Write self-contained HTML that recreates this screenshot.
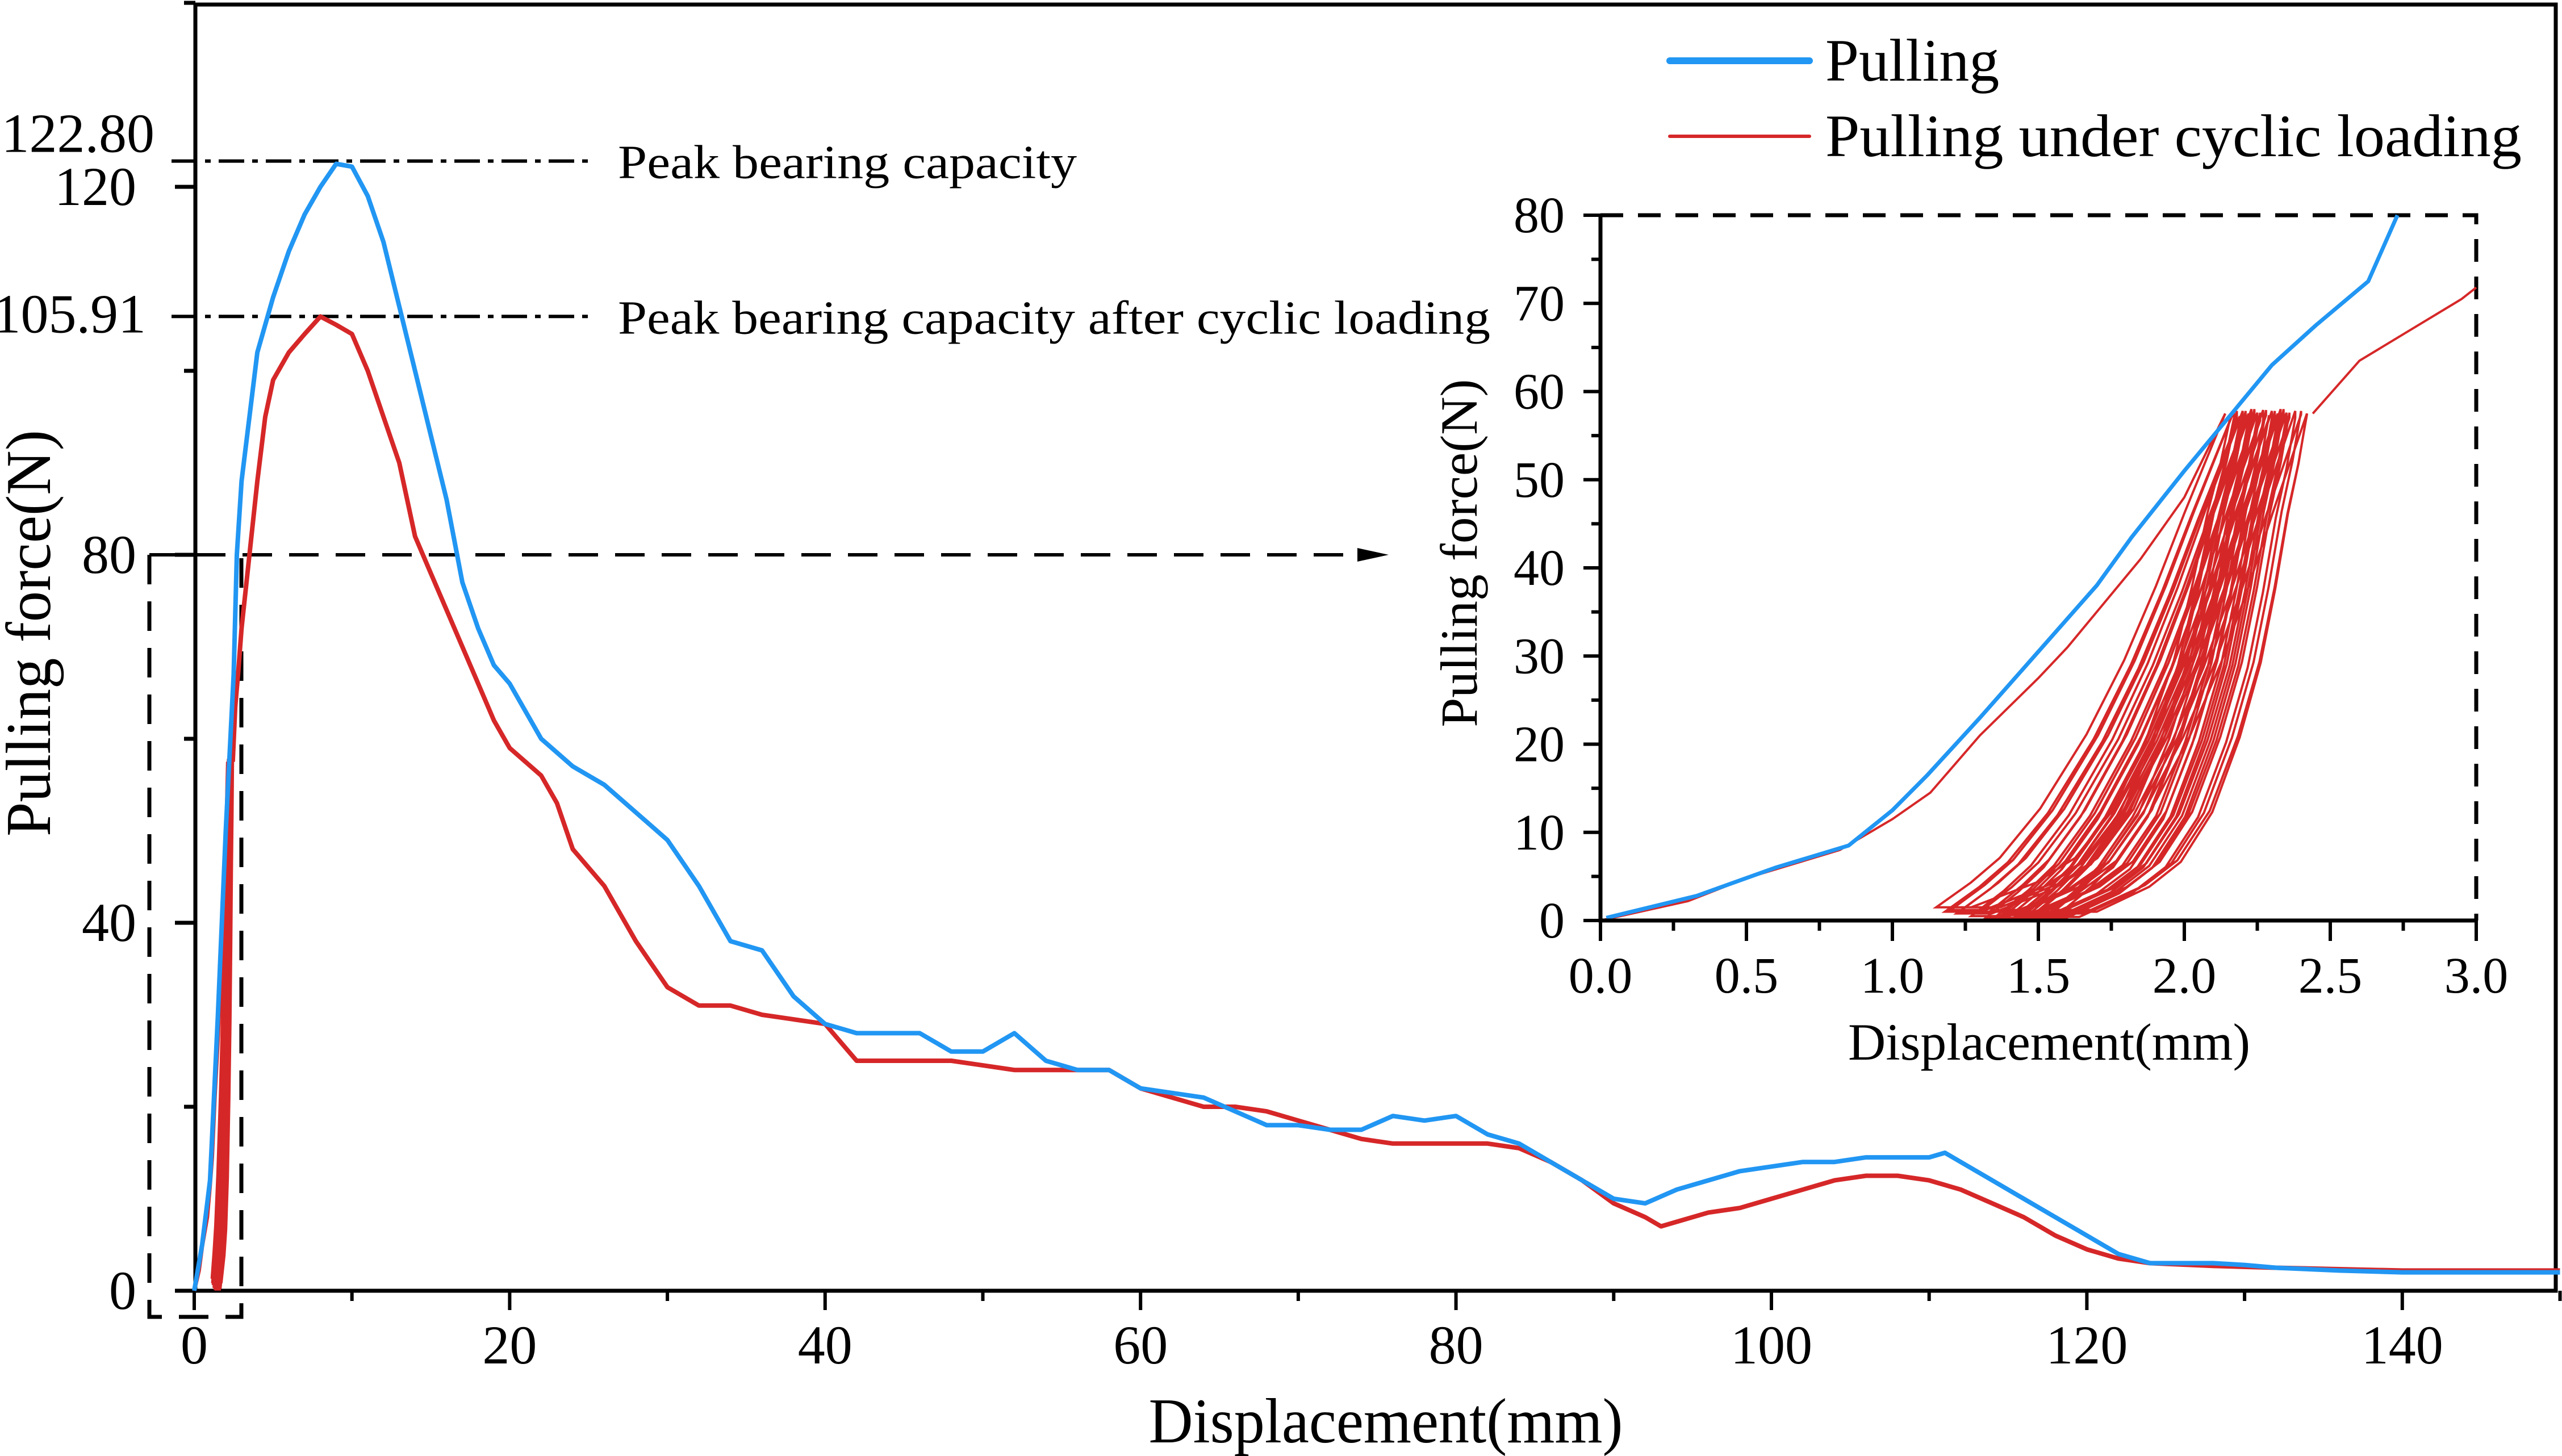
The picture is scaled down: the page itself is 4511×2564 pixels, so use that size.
<!DOCTYPE html>
<html><head><meta charset="utf-8"><style>
html,body{margin:0;padding:0;background:#fff;}
svg{display:block;font-family:"Liberation Serif",serif;}
</style></head><body>
<svg id="chart" width="4511" height="2564" viewBox="0 0 4511 2564" xmlns="http://www.w3.org/2000/svg">
<rect x="0" y="0" width="4511" height="2564" fill="#fff"/>
<g id="main"></g>
<g id="inset"></g>
</svg>
<script>
// ---- main chart data ----
const blueX = [0,0.5,1,1.5,2,2.5,2.7,3,3.5,4,5,6,7,8,9,10,11,12,13,14,15,16,17,18,19,20,22,24,26,28,30,32,34,36,38,40,42,44,46,48,50,52,54,56,58,60,62,64,66,68,70,72,74,76,78,80,82,84,86,88,90,92,94,96,98,100,102,104,106,108,110,111,112,114,116,118,120,122,124,126,128,130,132,136,140,145,150];
const blueY = [0,5,12,30,50,67,80,88,95,102,108,113,117,120,122.5,122.2,119,114,107,100,93,86,77,72,68,66,60,57,55,52,49,44,38,37,32,29,28,28,28,26,26,28,25,24,24,22,21.5,21,19.5,18,18,17.5,17.5,19,18.5,19,17,16,14,12,10,9.5,11,12,13,13.5,14,14,14.5,14.5,14.5,15,14,12,10,8,6,4,3,3,3,2.8,2.5,2.2,2,2,2];
const redX = [2.44,2.6,2.8,3,3.5,4,4.5,5,6,7,8,9,10,11,12,13,14,15,16,17,18,19,20,22,23,24,26,28,30,32,34,36,38,40,42,44,46,48,50,52,54,56,58,60,62,64,66,68,70,72,74,76,78,80,82,84,86,88,90,92,93,94,96,98,100,102,104,106,108,110,112,114,116,118,120,122,124,128,132,140,150];
const redY = [57.5,63.5,67.5,72,80,88,95,99,102,104,105.9,105,104,100,95,90,82,78,74,70,66,62,59,56,53,48,44,38,33,31,31,30,29.5,29,25,25,25,25,24.5,24,24,24,24,22,21,20,20,19.5,18.5,17.5,16.5,16,16,16,16,15.5,14,12,9.5,8,7,7.5,8.5,9,10,11,12,12.5,12.5,12,11,9.5,8,6,4.5,3.5,3,2.7,2.5,2.2,2.2];
const xTicks = [0,20,40,60,80,100,120,140];
const yTicks = [0,40,80,120];
const peakValues = [122.80,105.91];
const peakLabels = ["Peak bearing capacity","Peak bearing capacity after cyclic loading"];
// ---- inset data ----
const insetBlueX = [0.02,0.33,0.6,0.85,1.0,1.12,1.3,1.5,1.7,1.82,2.0,2.15,2.3,2.45,2.63,2.73];
const insetBlueY = [0.3,2.8,6,8.5,12.5,16.5,23,30.5,38,43.5,51,57,63,67.5,72.5,80];
const redInitX = [0,0.3,0.5,0.82,1.0,1.13,1.3,1.5,1.6,1.7,1.85,2.0,2.14];
const redInitY = [0,2.2,4.8,8,11.5,14.5,21,27.5,31,35,41,48,57.5];
const redAfterX = [2.44,2.6,2.8,2.95,3.0];
const redAfterY = [57.5,63.5,67.5,70.5,71.8];
const cycleBottomX = [1.15,1.18,1.2,1.22,1.25,1.27,1.3,1.32,1.34,1.36,1.38,1.39,1.4,1.42,1.43,1.44,1.45,1.46,1.47,1.48,1.5,1.52,1.54,1.56,1.58];
const cycleTopX = [2.14,2.16,2.17,2.18,2.19,2.2,2.21,2.22,2.23,2.24,2.25,2.26,2.27,2.28,2.29,2.3,2.31,2.32,2.33,2.34,2.35,2.36,2.38,2.4,2.42];
const cycleMinY = [1.5,1,1.2,0.8,1.5,0.5,1,0.3,1.2,0.6,0.8,0.2,1,0.4,0.7,0.3,0.9,0.5,0.2,0.6,1,0.4,0.8,1.2,1];
const cycleMaxY = [57.5,57,57.8,56.5,57.2,57.8,56.8,57.5,58,57,57.6,56.7,57.9,57.3,57,57.8,56.9,57.5,58,57.2,57.6,57,57.8,57.4,57.5];
const profileY = [0,0.05,0.1,0.2,0.35,0.5,0.65,0.8,0.9,1];
const unloadFrac = [0,0.12,0.22,0.36,0.52,0.65,0.76,0.86,0.93,1];
const reloadFrac = [0,0.25,0.4,0.55,0.68,0.78,0.85,0.91,0.96,1];
const insetXTicks = [0,0.5,1.0,1.5,2.0,2.5,3.0];
const insetYTicks = [0,10,20,30,40,50,60,70,80];

const NS="http://www.w3.org/2000/svg";
function mk(parent,tag,attrs,text){const e=document.createElementNS(NS,tag);for(const k in attrs)e.setAttribute(k,attrs[k]);if(text!==undefined)e.textContent=text;parent.appendChild(e);return e;}

const X0=342, XS=27.77, Y0=2273, YS=16.2;
const mx=v=>X0+v*XS, my=v=>Y0-v*YS;
const IX0=2818, IXS=(4360-2818)/3, IY0=1621, IYS=(1621-379)/80;
const ix=v=>IX0+v*IXS, iy=v=>IY0-v*IYS;

const main=document.getElementById('main');
const inset=document.getElementById('inset');

function buildCycles(fx,fy){
  const pts=[];
  for(let c=0;c<cycleBottomX.length;c++){
    const b=cycleBottomX[c], t=cycleTopX[c], lo=cycleMinY[c], hi=cycleMaxY[c];
    for(let k=profileY.length-1;k>=0;k--){pts.push([fx(b+(t-b)*unloadFrac[k]),fy(lo+(hi-lo)*profileY[k])]);}
    const nb=b+0.12, nt=(c+1<cycleTopX.length?cycleTopX[c+1]:t);
    for(let k=0;k<profileY.length;k++){pts.push([fx(nb+(nt-nb)*reloadFrac[k]),fy(lo+(hi-lo)*profileY[k])]);}
  }
  return pts;
}
function ptsStr(xs,ys,fx,fy){return xs.map((v,i)=>fx(v).toFixed(1)+','+fy(ys[i]).toFixed(1)).join(' ');}

// ---- MAIN ----
const frame=mk(main,'rect',{x:344,y:8,width:4156,height:2265,fill:'none',stroke:'#000','stroke-width':7});



for(let v=0;v<=150;v+=10){
  const major=xTicks.includes(v);
  const t=mk(main,'line',{x1:mx(v),x2:mx(v),y1:2273,y2:2273+(major?34:18),stroke:'#000','stroke-width':6});
  
  
}
xTicks.forEach(v=>{
  const t=mk(main,'text',{x:mx(v),y:2401,'font-size':96,'text-anchor':'middle'},String(v));
  
  
});
for(let v=0;v<=140;v+=20){
  const major=yTicks.includes(v);
  const t=mk(main,'line',{x1:344,x2:344-(major?36:20),y1:my(v),y2:my(v),stroke:'#000','stroke-width':7});
  
  
}
yTicks.forEach(v=>{
  const t=mk(main,'text',{x:240,y:my(v)+32,'font-size':96,'text-anchor':'end'},String(v));
  
  
});
const peakRight=[272,257];
const peakDy=[-16,28];
peakValues.forEach((v,i)=>{
  const l=mk(main,'line',{x1:302,x2:1036,y1:my(v),y2:my(v),stroke:'#000','stroke-width':6,'stroke-dasharray':'45 14 10 14'});
  
  
  const t=mk(main,'text',{x:peakRight[i],y:my(v)+peakDy[i],'font-size':98,'text-anchor':'end'},v.toFixed(2));
  
  
  const lab=mk(main,'text',{x:1088,y:my(v)+30,'font-size':84,textLength:i?1536:808,lengthAdjust:'spacingAndGlyphs'},peakLabels[i]);
  
  
});
const zb=mk(main,'path',{d:`M263,${my(80)} L263,2319 L425,2319 L425,${my(80)}`,fill:'none',stroke:'#000','stroke-width':7,'stroke-dasharray':'52 30'});


const ar=mk(main,'line',{x1:263,x2:2390,y1:my(80),y2:my(80),stroke:'#000','stroke-width':6,'stroke-dasharray':'52 30'});


const ah=mk(main,'polygon',{points:`2390,${my(80)-12} 2445,${my(80)} 2390,${my(80)+12}`,fill:'#000'});



const mc=buildCycles(mx,my);
const mcl=mk(main,'polyline',{points:mc.map(p=>p[0].toFixed(1)+','+p[1].toFixed(1)).join(' '),fill:'none',stroke:'#d62728','stroke-width':6});


const mri=mk(main,'polyline',{points:ptsStr(redInitX,redInitY,mx,my),fill:'none',stroke:'#d62728','stroke-width':7});


const mr=mk(main,'polyline',{points:ptsStr(redX,redY,mx,my),fill:'none',stroke:'#d62728','stroke-width':8,'stroke-linejoin':'round'});


const mb=mk(main,'polyline',{points:ptsStr(blueX,blueY,mx,my),fill:'none',stroke:'#2196f3','stroke-width':8,'stroke-linejoin':'round'});



const xt=mk(main,'text',{x:2440,y:2540,'font-size':112,'text-anchor':'middle',textLength:835,lengthAdjust:'spacingAndGlyphs'},'Displacement(mm)');


const yt=mk(main,'text',{x:0,y:0,'font-size':112,'text-anchor':'middle',textLength:716,lengthAdjust:'spacingAndGlyphs',transform:'translate(88,1115) rotate(-90)'},'Pulling force(N)');



const lb=mk(main,'line',{x1:2940,x2:3186,y1:107,y2:107,stroke:'#2196f3','stroke-width':12,'stroke-linecap':'round'});


const lbt=mk(main,'text',{x:3214,y:142,'font-size':106},'Pulling');


const lr=mk(main,'line',{x1:2940,x2:3186,y1:240,y2:240,stroke:'#d62728','stroke-width':6,'stroke-linecap':'round'});


const lrt=mk(main,'text',{x:3214,y:275,'font-size':106,textLength:1226,lengthAdjust:'spacingAndGlyphs'},'Pulling under cyclic loading');



// ---- INSET ----
const ibg=mk(inset,'rect',{x:IX0,y:iy(80),width:ix(3)-IX0,height:IY0-iy(80),fill:'#fff'});


const ib=mk(inset,'path',{d:`M${IX0},${iy(80)} L${ix(3)},${iy(80)} L${ix(3)},${IY0}`,fill:'none',stroke:'#000','stroke-width':7,'stroke-dasharray':'40 26'});


for(let v=0;v<=80;v+=5){
  const major=v%10===0;
  const t=mk(inset,'line',{x1:IX0,x2:IX0-(major?30:16),y1:iy(v),y2:iy(v),stroke:'#000','stroke-width':6});
  
  
}
insetYTicks.forEach(v=>{
  const t=mk(inset,'text',{x:2755,y:iy(v)+30,'font-size':90,'text-anchor':'end'},String(v));
  
  
});
for(let k=0;k<=12;k++){
  const v=k*0.25, major=k%2===0;
  const t=mk(inset,'line',{x1:ix(v),x2:ix(v),y1:IY0,y2:IY0+(major?36:18),stroke:'#000','stroke-width':6});
  
  
}
insetXTicks.forEach(v=>{
  const t=mk(inset,'text',{x:ix(v),y:1748,'font-size':90,'text-anchor':'middle'},v.toFixed(1));
  
  
});
const ic=buildCycles(ix,iy);
const icl=mk(inset,'polyline',{points:ic.map(p=>p[0].toFixed(1)+','+p[1].toFixed(1)).join(' '),fill:'none',stroke:'#d62728','stroke-width':4});


const iri=mk(inset,'polyline',{points:ptsStr(redInitX,redInitY,ix,iy),fill:'none',stroke:'#d62728','stroke-width':4});


const ira=mk(inset,'polyline',{points:ptsStr(redAfterX,redAfterY,ix,iy),fill:'none',stroke:'#d62728','stroke-width':4});


const ibl=mk(inset,'polyline',{points:ptsStr(insetBlueX,insetBlueY,ix,iy),fill:'none',stroke:'#2196f3','stroke-width':7});


const iax=mk(inset,'path',{d:`M${IX0},${iy(80)} L${IX0},${IY0} L${ix(3)},${IY0}`,fill:'none',stroke:'#000','stroke-width':7});


const ixt=mk(inset,'text',{x:3608,y:1866,'font-size':92,'text-anchor':'middle',textLength:708,lengthAdjust:'spacingAndGlyphs'},'Displacement(mm)');


const iyt=mk(inset,'text',{x:0,y:0,'font-size':92,'text-anchor':'middle',textLength:613,lengthAdjust:'spacingAndGlyphs',transform:'translate(2600,974) rotate(-90)'},'Pulling force(N)');


</script>
</body></html>
